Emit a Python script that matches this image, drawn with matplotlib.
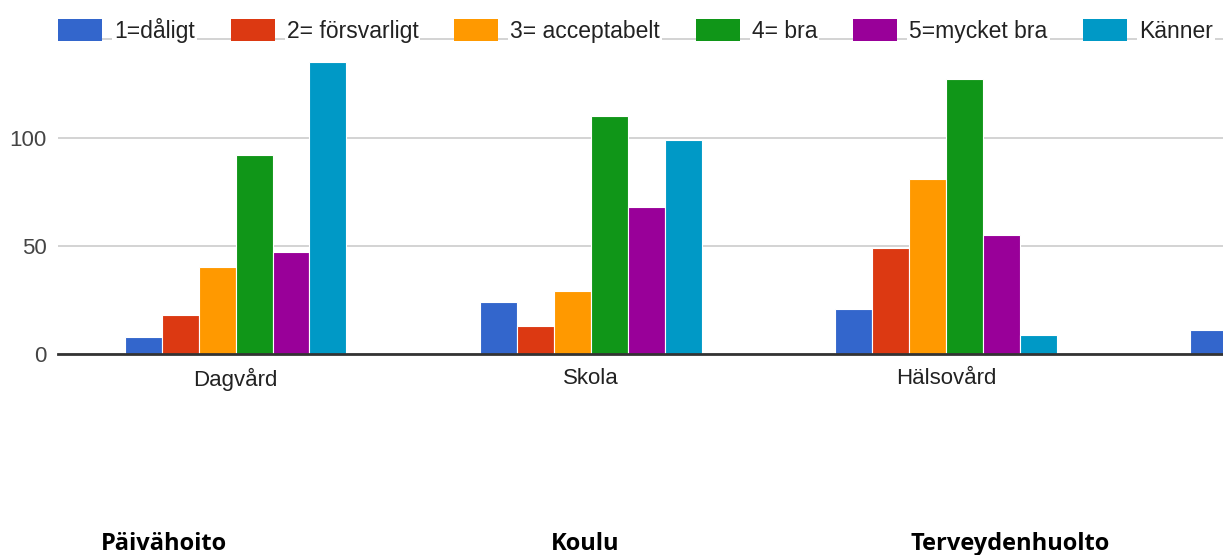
import numpy as np
import matplotlib
matplotlib.use("Agg")
import matplotlib.pyplot as plt
from matplotlib.patches import Patch
from matplotlib.lines import Line2D

plt.rcParams['font.family'] = ['Liberation Sans', 'DejaVu Sans']

# data
kategorier = ['Dagvård', 'Skola', 'Hälsovård', '']
serier = ['1=dåligt', '2= försvarligt', '3= acceptabelt', '4= bra',
          '5=mycket bra', 'Känner']  # last one is cut off in the picture
dagvard = [8, 18, 40, 92, 47, 135]
skola = [24, 13, 29, 110, 68, 99]
halsovard = [21, 49, 81, 127, 55, 9]
fjarde = [11, np.nan, np.nan, np.nan, np.nan, np.nan]  # cut off at the right edge
finska = ['Päivähoito', 'Koulu', 'Terveydenhuolto']

farger = ['#3366cc', '#dc3912', '#ff9900', '#109618', '#990099', '#0099c6']

varden = np.array([dagvard, skola, halsovard, fjarde], dtype=float)

fig = plt.figure(figsize=(12.23, 5.55), dpi=100)
ax = fig.add_axes([58/1223, 201/555, 1 - 58/1223, 303/555])

x = np.arange(len(kategorier))
bredd = 0.104
for i, namn in enumerate(serier):
    ax.bar(x + (i - 2.5) * bredd, varden[:, i], width=bredd, color=farger[i],
           edgecolor='white', linewidth=0.8, label=namn, zorder=3)

ax.set_xlim(-0.5, 2.78)
ax.set_ylim(0, 140)
ax.set_yticks([0, 50, 100])
ax.set_xticks(x[:3])
ax.set_xticklabels(kategorier[:3])
ax.grid(axis='y', color='#cccccc', linewidth=1.2, zorder=0)
for s in ['top', 'right', 'left']:
    ax.spines[s].set_visible(False)
ax.spines['bottom'].set_color('#333333')
ax.spines['bottom'].set_linewidth(2)
ax.spines['bottom'].set_zorder(4)
ax.tick_params(axis='both', length=0, labelsize=16, colors='#222222')
ax.tick_params(axis='y', pad=8, colors='#444444')
ax.tick_params(axis='x', pad=10)

# legend on top with a thin gray line behind it
fig.add_artist(Line2D([102/1223, 1.0], [1 - 39/555, 1 - 39/555],
                      transform=fig.transFigure, color='#cccccc',
                      linewidth=1.2, zorder=0))
handtag = [Patch(facecolor=f, edgecolor='none') for f in farger]
leg = fig.legend(handtag, serier, loc='upper left', ncol=6,
                 bbox_to_anchor=(58/1223, 1 - 18/555), frameon=False,
                 fontsize=16.5, handlelength=1.92, handleheight=1.1,
                 handletextpad=0.52, columnspacing=1.57, borderaxespad=0,
                 borderpad=0)
for t in leg.get_texts():
    t.set_color('#222222')
    t.set_bbox(dict(facecolor='white', edgecolor='none', pad=1.5))

# finnish labels under the chart
for txt, xp in zip(finska, [164, 585, 1010]):
    fig.text(xp/1223, 1 - 550/555, txt, ha='center', va='baseline',
             fontsize=17, fontweight='bold', family=['Open Sans', 'DejaVu Sans'],
             color='black')

fig.savefig('out.png', dpi=100)
